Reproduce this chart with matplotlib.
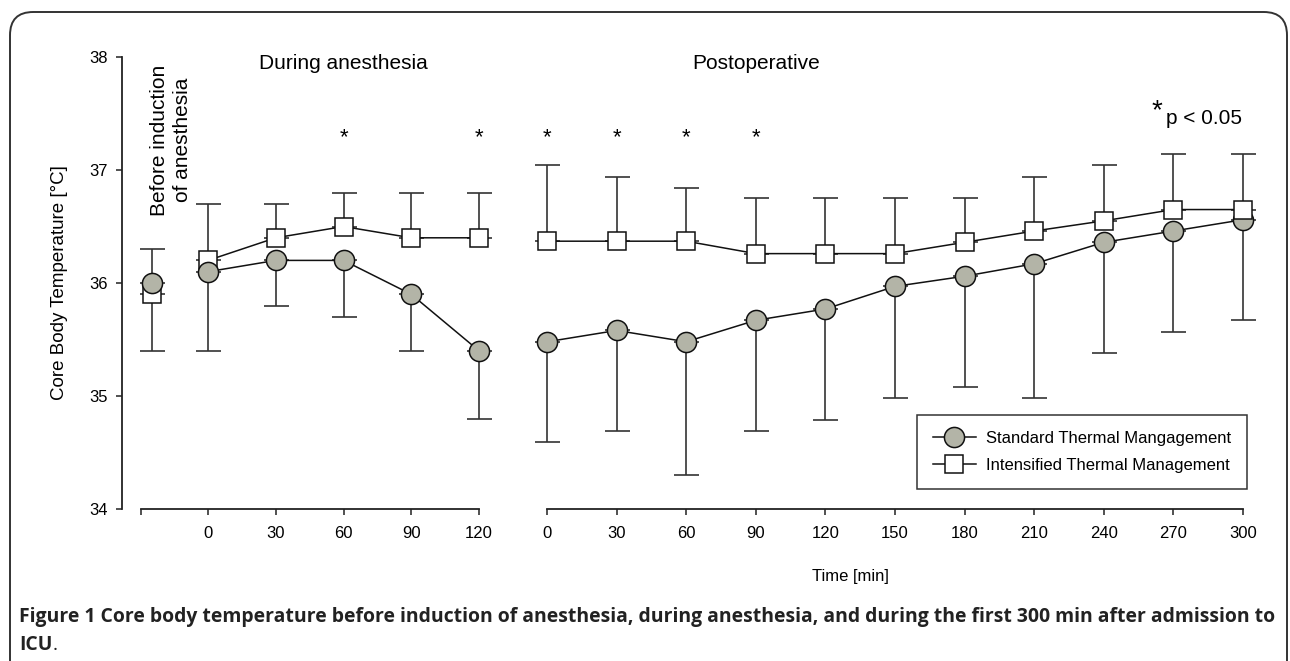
import matplotlib
matplotlib.use("Agg")
import matplotlib.pyplot as plt
from matplotlib.patches import FancyBboxPatch
from matplotlib.lines import Line2D

# ---------------- data ----------------
anes_times = [0, 30, 60, 90, 120]
post_times = [0, 30, 60, 90, 120, 150, 180, 210, 240, 270, 300]

pre_std_mean = 36.0
pre_std_low = 35.4
pre_int_mean = 35.9
pre_int_high = 36.3

anes_std_mean = [36.1, 36.2, 36.2, 35.9, 35.4]
anes_std_low = [35.4, 35.8, 35.7, 35.4, 34.8]
anes_int_mean = [36.2, 36.4, 36.5, 36.4, 36.4]
anes_int_high = [36.7, 36.7, 36.8, 36.8, 36.8]

post_std_mean = [35.48, 35.58, 35.48, 35.67, 35.77, 35.97, 36.06, 36.17, 36.36, 36.46, 36.56]
post_std_low = [34.59, 34.69, 34.30, 34.69, 34.79, 34.98, 35.08, 34.98, 35.38, 35.57, 35.67]
post_int_mean = [36.37, 36.37, 36.37, 36.26, 36.26, 36.26, 36.36, 36.46, 36.55, 36.65, 36.65]
post_int_high = [37.04, 36.94, 36.84, 36.75, 36.75, 36.75, 36.75, 36.94, 37.04, 37.14, 37.14]

anes_sig = [60, 120]
post_sig = [0, 30, 60, 90]

y_ticks = [34, 35, 36, 37, 38]
anes_tick_labels = ["0", "30", "60", "90", "120"]
post_tick_labels = ["0", "30", "60", "90", "120", "150", "180", "210", "240", "270", "300"]

labels = ["Standard Thermal Mangagement", "Intensified Thermal Management"]

# ---------------- style ----------------
FONT = ["Liberation Sans", "DejaVu Sans"]
plt.rcParams["font.family"] = FONT
GREY = "#b3b4a7"
ERR = "#333333"
W, H = 1290, 661
PRE_X = -25
AX1_LEFT_LIM = -38.1
SEG_START = -29.7

fig = plt.figure(figsize=(W / 100, H / 100), dpi=100)

def fx(px):
    return px / W

def fy(py):
    return 1 - py / H

ax1 = fig.add_axes([fx(122), fy(509), fx(479) - fx(122), fy(57) - fy(509)])
ax2 = fig.add_axes([fx(547), fy(509), fx(1243) - fx(547), fy(57) - fy(509)])

for ax in (ax1, ax2):
    ax.set_ylim(34, 38)
    ax.patch.set_alpha(0)
    for s in ("top", "right"):
        ax.spines[s].set_visible(False)
    ax.spines["bottom"].set_linewidth(1.3)
    ax.spines["bottom"].set_color("#222222")
    ax.tick_params(axis="x", direction="out", length=4.5, width=1.1, color="#222222",
                   labelsize=12, pad=8)

ax1.set_xlim(AX1_LEFT_LIM, 120)
ax2.set_xlim(0, 300)
ax2.spines["left"].set_visible(False)
ax2.set_yticks([])
ax1.spines["left"].set_linewidth(1.3)
ax1.spines["left"].set_color("#222222")
ax1.spines["bottom"].set_bounds(SEG_START, 120)
ax1.set_yticks(y_ticks)
ax1.set_yticklabels([str(v) for v in y_ticks])
ax1.tick_params(axis="y", direction="out", length=4.5, width=1.1, color="#222222",
                labelsize=12, pad=6)
ax1.set_xticks([SEG_START] + anes_times)
ax1.set_xticklabels([""] + anes_tick_labels)
ax2.set_xticks(post_times)
ax2.set_xticklabels(post_tick_labels)

eb_kw = dict(fmt="none", ecolor=ERR, elinewidth=1.2, capsize=9, capthick=1.2, clip_on=False)
circ_kw = dict(marker="o", ms=14.5, mfc=GREY, mec="#111111", mew=1.1, color="#111111",
               lw=1.1, clip_on=False)
sq_kw = dict(marker="s", ms=13.5, mfc="white", mec="#111111", mew=1.1, color="#111111",
             lw=1.1, clip_on=False)

# --- pre-induction ---
ax1.errorbar([PRE_X], [pre_int_mean], yerr=[[0], [pre_int_high - pre_int_mean]], **eb_kw)
ax1.errorbar([PRE_X], [pre_std_mean], yerr=[[pre_std_mean - pre_std_low], [0]], **eb_kw)
ax1.plot([PRE_X], [pre_int_mean], zorder=3, **sq_kw)
ax1.plot([PRE_X], [pre_std_mean], zorder=4, **circ_kw)

# --- during anesthesia ---
ax1.errorbar(anes_times, anes_int_mean,
             yerr=[[0] * len(anes_times), [h - m for h, m in zip(anes_int_high, anes_int_mean)]],
             **eb_kw)
ax1.errorbar(anes_times, anes_std_mean,
             yerr=[[m - l for m, l in zip(anes_std_mean, anes_std_low)], [0] * len(anes_times)],
             **eb_kw)
ax1.plot(anes_times, anes_int_mean, zorder=3, **sq_kw)
ax1.plot(anes_times, anes_std_mean, zorder=4, **circ_kw)

# --- postoperative ---
ax2.errorbar(post_times, post_int_mean,
             yerr=[[0] * len(post_times), [h - m for h, m in zip(post_int_high, post_int_mean)]],
             **eb_kw)
ax2.errorbar(post_times, post_std_mean,
             yerr=[[m - l for m, l in zip(post_std_mean, post_std_low)], [0] * len(post_times)],
             **eb_kw)
ax2.plot(post_times, post_std_mean, zorder=3, **circ_kw)
ax2.plot(post_times, post_int_mean, zorder=4, **sq_kw)

# --- significance stars ---
for t in anes_sig:
    ax1.text(t, 37.29, "*", ha="center", va="center", fontsize=16)
for t in post_sig:
    ax2.text(t, 37.29, "*", ha="center", va="center", fontsize=16)
ax2.text(263, 37.52, "*", ha="center", va="center", fontsize=20)
ax2.text(267, 37.46, "p < 0.05", ha="left", va="center", fontsize=15)

# --- section titles ---
ax1.text(60, 37.94, "During anesthesia", ha="center", va="center", fontsize=15)
ax2.text(90, 37.94, "Postoperative", ha="center", va="center", fontsize=15)
fig.text(fx(171), fy(140), "Before induction\nof anesthesia", rotation=90,
         ha="center", va="center", multialignment="center", fontsize=15, linespacing=1.3)

# --- axis labels ---
fig.text(fx(60), fy(283), "Core Body Temperature [°C]", rotation=90, ha="center",
         va="center", fontsize=13.5)
fig.text(fx(850), fy(577), "Time [min]", ha="center", va="center", fontsize=12)

# --- legend ---
h_std = Line2D([], [], **{k: v for k, v in circ_kw.items() if k != "clip_on"})
h_int = Line2D([], [], **{k: v for k, v in sq_kw.items() if k != "clip_on"})
leg = fig.legend([h_std, h_int], labels, loc="lower right",
                 bbox_to_anchor=(fx(1247), fy(489)), bbox_transform=fig.transFigure,
                 borderaxespad=0, fancybox=False, edgecolor="#333333", fontsize=12,
                 handlelength=2.6, handletextpad=0.6, labelspacing=0.75, borderpad=0.95,
                 framealpha=1)
leg.get_frame().set_linewidth(1.1)

# --- frame ---
frame = FancyBboxPatch((fx(10), fy(700)), fx(1287) - fx(10), fy(12) - fy(700),
                       boxstyle="round,pad=0,rounding_size=0.018",
                       transform=fig.transFigure, fill=False, edgecolor="#333333",
                       linewidth=1.4, clip_on=False, mutation_aspect=W / H)
fig.patches.append(frame)

# --- caption ---
cap1 = fig.text(fx(19), fy(617), "Figure 1 Core body temperature before induction of anesthesia, "
                "during anesthesia, and during the first 300 min after admission to",
                ha="left", va="center", fontsize=12.5, fontweight="bold",
                family=["Open Sans", "DejaVu Sans"], color="#222222")
fig.canvas.draw()
bb = cap1.get_window_extent()
target = 1272 - 19
cap1.set_fontsize(12.5 * target / bb.width)
cs = cap1.get_fontsize()
t2 = fig.text(fx(19), fy(645), "ICU", ha="left", va="center", fontsize=cs, fontweight="bold",
              family=["Open Sans", "DejaVu Sans"], color="#222222")
fig.canvas.draw()
b2 = t2.get_window_extent()
fig.text(b2.x1 / W, fy(645), ".", ha="left", va="center", fontsize=cs,
         family=["Open Sans", "DejaVu Sans"], color="#222222")

fig.savefig("out.png", dpi=100)
